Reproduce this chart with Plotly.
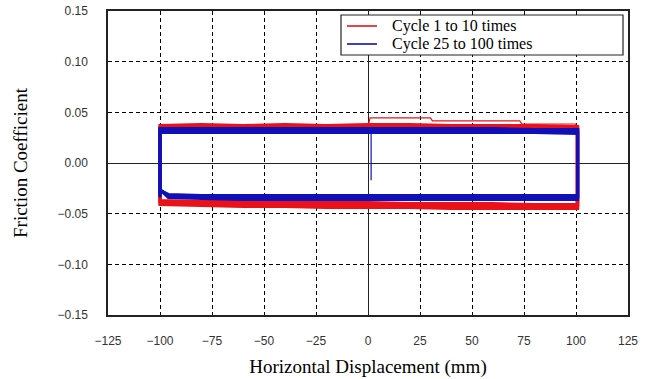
import plotly.graph_objects as go

# ---- data ----
x_nodes = [-100, -80, -60, -40, -20, 0, 20, 40, 60, 80, 100]

# Cycle 1 to 10 (red): friction coefficient along the forward (upper) and return (lower) strokes
red_upper = [
    [0.036, 0.037, 0.036, 0.037, 0.036, 0.037, 0.036, 0.037, 0.036, 0.036, 0.035],
    [0.035, 0.036, 0.035, 0.036, 0.035, 0.036, 0.035, 0.035, 0.035, 0.034, 0.034],
    [0.037, 0.038, 0.037, 0.038, 0.037, 0.038, 0.038, 0.037, 0.037, 0.037, 0.036],
    [0.034, 0.035, 0.034, 0.035, 0.034, 0.034, 0.034, 0.034, 0.034, 0.033, 0.033],
]
red_lower = [
    [-0.038, -0.039, -0.040, -0.040, -0.040, -0.041, -0.041, -0.041, -0.042, -0.042, -0.042],
    [-0.040, -0.041, -0.041, -0.042, -0.042, -0.042, -0.043, -0.043, -0.043, -0.044, -0.044],
    [-0.037, -0.038, -0.038, -0.039, -0.039, -0.039, -0.040, -0.040, -0.040, -0.041, -0.041],
    [-0.041, -0.042, -0.043, -0.043, -0.044, -0.044, -0.044, -0.045, -0.045, -0.045, -0.045],
]
# first stroke of cycle 1 (starts at the centre)
red_start_x = [0, 1, 30, 31, 73, 74, 100, 100]
red_start_y = [0.036, 0.0445, 0.0445, 0.0415, 0.0415, 0.0385, 0.0385, -0.040]

# Cycle 25 to 100 (blue)
blue_upper = [
    [0.034, 0.034, 0.034, 0.034, 0.034, 0.034, 0.034, 0.034, 0.034, 0.033, 0.033],
    [0.032, 0.032, 0.032, 0.032, 0.032, 0.032, 0.031, 0.031, 0.031, 0.031, 0.031],
    [0.033, 0.033, 0.033, 0.033, 0.033, 0.033, 0.033, 0.032, 0.032, 0.032, 0.032],
    [0.030, 0.030, 0.030, 0.030, 0.030, 0.030, 0.030, 0.030, 0.030, 0.030, 0.029],
]
blue_lower = [
    [-0.031, -0.032, -0.032, -0.032, -0.032, -0.032, -0.032, -0.032, -0.032, -0.032, -0.032],
    [-0.033, -0.034, -0.034, -0.034, -0.034, -0.034, -0.034, -0.034, -0.034, -0.034, -0.034],
    [-0.032, -0.033, -0.033, -0.033, -0.033, -0.033, -0.033, -0.033, -0.033, -0.033, -0.033],
    [-0.034, -0.035, -0.036, -0.036, -0.036, -0.036, -0.036, -0.036, -0.036, -0.036, -0.036],
]
blue_corner_y = -0.028   # small overshoot at the left reversal
# short spike near the centre
blue_spike_x = [1.5, 1.5, 1.5]
blue_spike_y = [0.032, -0.017, 0.032]

series_names = ["Cycle 1 to 10 times", "Cycle 25 to 100 times"]
x_ticks = [-125, -100, -75, -50, -25, 0, 25, 50, 75, 100, 125]
y_ticks = [-0.15, -0.10, -0.05, 0.00, 0.05, 0.10, 0.15]

RED = "#ea1218"
BLUE = "#1010b8"

fig = go.Figure()


def loop(upper, lower, x_right=100.8, corner=None):
    xs = [-100] + x_nodes[:-1] + [x_right, x_right] + x_nodes[::-1][1:-1]
    ys = [lower[0]] + upper[:-1] + [upper[-1], lower[-1]] + lower[::-1][1:-1]
    if corner is not None:
        xs += [-96, -99, -100, -100]
        ys += [lower[0], corner, corner, upper[0]]
    else:
        xs += [-100, -100]
        ys += [lower[0], upper[0]]
    return xs, ys


fig.add_trace(go.Scatter(x=red_start_x, y=red_start_y, mode="lines",
                         line=dict(color=RED, width=1.2), name=series_names[0],
                         showlegend=False))
for up, lo in zip(red_upper, red_lower):
    xs, ys = loop(up, lo)
    fig.add_trace(go.Scatter(x=xs, y=ys, mode="lines", line=dict(color=RED, width=3),
                             name=series_names[0], showlegend=False, hoverinfo="skip"))

fig.add_trace(go.Scatter(x=blue_spike_x, y=blue_spike_y, mode="lines",
                         line=dict(color=BLUE, width=1.2), name=series_names[1],
                         showlegend=False))
for up, lo in zip(blue_upper, blue_lower):
    xs, ys = loop(up, lo, corner=blue_corner_y)
    fig.add_trace(go.Scatter(x=xs, y=ys, mode="lines", line=dict(color=BLUE, width=3),
                             name=series_names[1], showlegend=False, hoverinfo="skip"))

# ---- legend box (drawn in paper coordinates) ----
PL, PW, PB, PH = 108, 520, 315, 304   # plot area geometry in px


def px(x):
    return (x - PL) / PW


def py(y):
    return (PB - y) / PH


legend_font = dict(family="Liberation Serif, Times New Roman", size=16, color="black")
fig.add_shape(type="rect", xref="paper", yref="paper",
              x0=px(341), x1=px(623), y0=py(55), y1=py(15),
              line=dict(color="#222", width=1.2), fillcolor="white", layer="above")
for i, (name, col) in enumerate(zip(series_names, [RED, BLUE])):
    yl = 26 + i * 18
    fig.add_shape(type="line", xref="paper", yref="paper",
                  x0=px(347), x1=px(377), y0=py(yl), y1=py(yl),
                  line=dict(color=col, width=1.6), layer="above")
    fig.add_annotation(xref="paper", yref="paper", x=px(390), y=py(yl),
                       xanchor="left", yanchor="middle", text=name, showarrow=False,
                       font=legend_font)

tick_font = dict(family="Liberation Sans, Arial", size=12, color="#333")
title_font = dict(family="Liberation Serif, Times New Roman", size=19, color="black")

fig.update_layout(
    width=651, height=379,
    margin=dict(l=108, r=23, t=11, b=64, autoexpand=False),
    paper_bgcolor="white", plot_bgcolor="white",
    showlegend=False,
    xaxis=dict(range=[-125, 125], tickvals=x_ticks, ticks="", tickfont=tick_font,
               ticklabelstandoff=14, automargin=False,
               showgrid=True, gridcolor="black", gridwidth=1, griddash="4px,3px",
               zeroline=True, zerolinecolor="#222", zerolinewidth=1,
               showline=True, mirror=True, linecolor="#222", linewidth=1.5,
               title=dict(text="Horizontal Displacement (mm)", font=title_font, standoff=13)),
    yaxis=dict(range=[-0.15, 0.15], tickvals=y_ticks, tickformat=".2f", ticks="",
               tickfont=tick_font, ticklabelstandoff=16, automargin=False,
               showgrid=True, gridcolor="black", gridwidth=1, griddash="4px,3px",
               zeroline=True, zerolinecolor="#222", zerolinewidth=1,
               showline=True, mirror=True, linecolor="#222", linewidth=1.5,
               title=dict(text="Friction Coefficient", font=title_font, standoff=25)),
)

fig.write_html("out.html", config={"displayModeBar": False},
               post_script="document.body.style.margin='0';document.body.style.padding='0';")
